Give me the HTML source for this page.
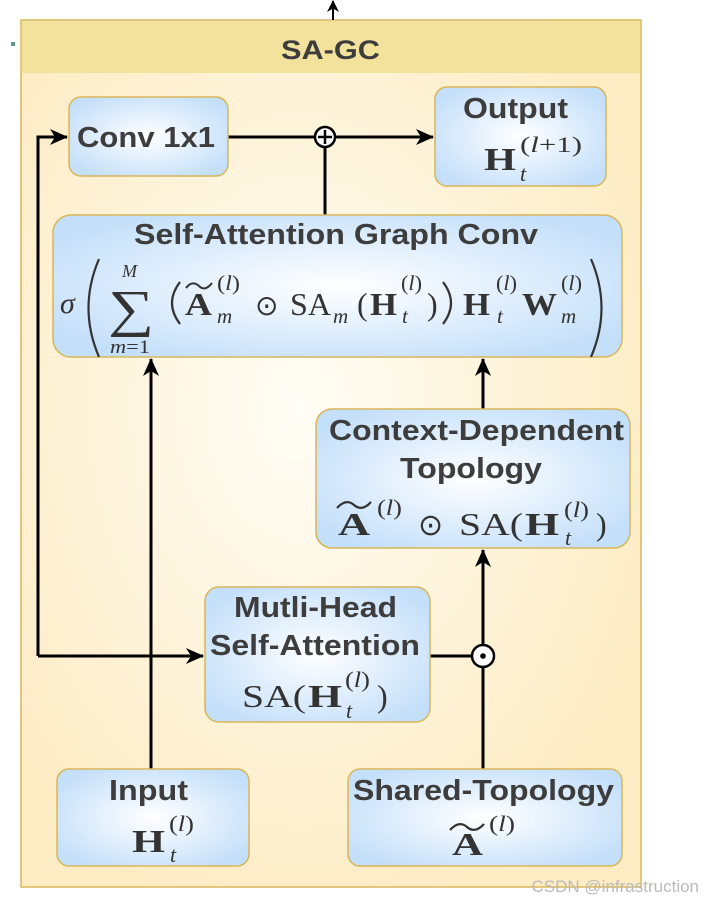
<!DOCTYPE html>
<html><head><meta charset="utf-8"><style>
body{margin:0;background:#fff;}
svg{display:block;}
.t{font-family:"Liberation Sans",sans-serif;font-weight:bold;fill:#3d3d3d;}
.m{font-family:"Liberation Serif",serif;fill:#333;}
.b{font-weight:bold;}
.i{font-style:italic;}
</style></head><body>
<svg width="714" height="902" viewBox="0 0 714 902" xmlns="http://www.w3.org/2000/svg">
<defs>
<radialGradient id="bg" cx="0.45" cy="0.45" r="0.6"><stop offset="0" stop-color="#fffdf6"/><stop offset="1" stop-color="#fdecc4"/></radialGradient>
<radialGradient id="bx" cx="0.5" cy="0.5" r="0.6"><stop offset="0" stop-color="#ffffff"/><stop offset="1" stop-color="#c4dffa"/></radialGradient>
<marker id="ar" markerWidth="18" markerHeight="16" refX="17" refY="8" orient="auto" markerUnits="userSpaceOnUse"><path d="M0,0 L18,8 L0,16 L5,8 z" fill="#000"/></marker>
<marker id="ar2" markerWidth="12" markerHeight="12" refX="11" refY="6" orient="auto" markerUnits="userSpaceOnUse"><path d="M0,0 L12,6 L0,12 L3.5,6 z" fill="#000"/></marker>
</defs>
<rect x="21" y="20" width="620" height="867" fill="url(#bg)" stroke="#d8b65a" stroke-width="1.5"/>
<rect x="22" y="21" width="618" height="52" fill="#f2e29c"/>
<text class="t" x="281" y="59" font-size="27" textLength="99" lengthAdjust="spacingAndGlyphs">SA-GC</text>
<rect x="11" y="42" width="4" height="4" fill="#5a9a8a"/>
<line x1="333" y1="20" x2="333" y2="1" stroke="#000" stroke-width="2" marker-end="url(#ar2)"/>
<g stroke="#000" stroke-width="3" fill="none">
<polyline points="38,656 38,137 67,137" marker-end="url(#ar)"/>
<line x1="38" y1="656" x2="203" y2="656" marker-end="url(#ar)"/>
<line x1="228" y1="137" x2="315" y2="137"/>
<line x1="335" y1="137" x2="433" y2="137" marker-end="url(#ar)"/>
<line x1="325" y1="147" x2="325" y2="215"/>
<line x1="151" y1="769" x2="151" y2="359" marker-end="url(#ar)"/>
<line x1="483" y1="769" x2="483" y2="550" marker-end="url(#ar)"/>
<line x1="430" y1="656" x2="473" y2="656"/>
<line x1="483" y1="409" x2="483" y2="359" marker-end="url(#ar)"/>
</g>
<circle cx="325" cy="137" r="10" fill="#fff" stroke="#000" stroke-width="2.5"/>
<path d="M325,130 V144 M318,137 H332" stroke="#000" stroke-width="2.5"/>
<circle cx="483" cy="656" r="11" fill="#fff" stroke="#000" stroke-width="2.5"/>
<circle cx="483" cy="656" r="2.8" fill="#000"/>
<g stroke="#d8b65a" stroke-width="1.5" fill="url(#bx)">
<rect x="69" y="97" width="159" height="79" rx="12"/>
<rect x="435" y="87" width="171" height="99" rx="12"/>
<rect x="53" y="215" width="569" height="142" rx="18"/>
<rect x="316" y="409" width="314" height="139" rx="16"/>
<rect x="205" y="587" width="225" height="135" rx="14"/>
<rect x="57" y="769" width="192" height="97" rx="12"/>
<rect x="348" y="769" width="274" height="97" rx="12"/>
</g>
<text class="t" x="77" y="147" font-size="29" textLength="138" lengthAdjust="spacingAndGlyphs">Conv 1x1</text>
<text class="t" x="463" y="118" font-size="29" textLength="105" lengthAdjust="spacingAndGlyphs">Output</text>
<text class="t" x="134" y="244" font-size="29" textLength="404" lengthAdjust="spacingAndGlyphs">Self-Attention Graph Conv</text>
<text class="t" x="329" y="440" font-size="29" textLength="295" lengthAdjust="spacingAndGlyphs">Context-Dependent</text>
<text class="t" x="400" y="478" font-size="29" textLength="142" lengthAdjust="spacingAndGlyphs">Topology</text>
<text class="t" x="234" y="617" font-size="29" textLength="163" lengthAdjust="spacingAndGlyphs">Mutli-Head</text>
<text class="t" x="210" y="655" font-size="29" textLength="210" lengthAdjust="spacingAndGlyphs">Self-Attention</text>
<text class="t" x="109" y="800" font-size="29" textLength="79" lengthAdjust="spacingAndGlyphs">Input</text>
<text class="t" x="353" y="800" font-size="29" textLength="261" lengthAdjust="spacingAndGlyphs">Shared-Topology</text>

<text class="m b" x="484" y="170" font-size="32" textLength="32" lengthAdjust="spacingAndGlyphs">H</text>
<text class="m" x="520" y="152" font-size="22" textLength="62" lengthAdjust="spacingAndGlyphs">(<tspan class="i">l</tspan>+1)</text>
<text class="m i" x="520" y="181" font-size="22">t</text>

<g fill="none" stroke="#333" stroke-width="2.2">
<path d="M99,259 Q78,308 99,357"/>
<path d="M591,259 Q612,308 591,357"/>
<path d="M180,282 Q164,303 180,324"/>
<path d="M443,282 Q459,303 443,324"/>
</g>
<g class="m">
<text class="m i" x="60" y="313" font-size="30">σ</text>
<text class="m i" x="122" y="277" font-size="18">M</text>
<text class="m" x="108" y="326" font-size="52" textLength="46" lengthAdjust="spacingAndGlyphs">∑</text>
<text class="m" x="110" y="353" font-size="19" textLength="40" lengthAdjust="spacingAndGlyphs"><tspan class="i">m</tspan>=1</text>
<text class="m b" x="185" y="315" font-size="32" textLength="27" lengthAdjust="spacingAndGlyphs">A</text>
<path d="M186,288 Q192,280 199,286 Q205,292 212,283" fill="none" stroke="#333" stroke-width="2"/>
<text class="m" x="217" y="290" font-size="21" textLength="23" lengthAdjust="spacingAndGlyphs">(<tspan class="i">l</tspan>)</text>
<text class="m i" x="217" y="323" font-size="21">m</text>
<text class="m" x="255" y="315" font-size="28">⊙</text>
<text class="m" x="290" y="315" font-size="32" textLength="41" lengthAdjust="spacingAndGlyphs">SA</text>
<text class="m i" x="333" y="323" font-size="21">m</text>
<text class="m" x="357" y="315" font-size="32">(</text>
<text class="m b" x="370" y="315" font-size="32" textLength="27" lengthAdjust="spacingAndGlyphs">H</text>
<text class="m" x="401" y="290" font-size="21" textLength="21" lengthAdjust="spacingAndGlyphs">(<tspan class="i">l</tspan>)</text>
<text class="m i" x="402" y="323" font-size="21">t</text>
<text class="m" x="427" y="315" font-size="32">)</text>
<text class="m b" x="463" y="315" font-size="32" textLength="27" lengthAdjust="spacingAndGlyphs">H</text>
<text class="m" x="496" y="290" font-size="21" textLength="21" lengthAdjust="spacingAndGlyphs">(<tspan class="i">l</tspan>)</text>
<text class="m i" x="497" y="323" font-size="21">t</text>
<text class="m b" x="522" y="315" font-size="32" textLength="35" lengthAdjust="spacingAndGlyphs">W</text>
<text class="m" x="561" y="290" font-size="21" textLength="21" lengthAdjust="spacingAndGlyphs">(<tspan class="i">l</tspan>)</text>
<text class="m i" x="561" y="323" font-size="21">m</text>
</g>

<text class="m b" x="338" y="535" font-size="32" textLength="32" lengthAdjust="spacingAndGlyphs">A</text>
<path d="M337,508 Q346,498 354,505 Q362,512 371,502" fill="none" stroke="#333" stroke-width="2.2"/>
<text class="m" x="377" y="515" font-size="22" textLength="25" lengthAdjust="spacingAndGlyphs">(<tspan class="i">l</tspan>)</text>
<text class="m" x="418" y="535" font-size="30">⊙</text>
<text class="m" x="459" y="535" font-size="32" textLength="64" lengthAdjust="spacingAndGlyphs">SA(</text>
<text class="m b" x="525" y="535" font-size="32" textLength="34" lengthAdjust="spacingAndGlyphs">H</text>
<text class="m" x="564" y="517" font-size="22" textLength="25" lengthAdjust="spacingAndGlyphs">(<tspan class="i">l</tspan>)</text>
<text class="m i" x="565" y="545" font-size="22">t</text>
<text class="m" x="596" y="535" font-size="32">)</text>

<text class="m" x="242" y="707" font-size="32" textLength="64" lengthAdjust="spacingAndGlyphs">SA(</text>
<text class="m b" x="308" y="707" font-size="32" textLength="34" lengthAdjust="spacingAndGlyphs">H</text>
<text class="m" x="345" y="687" font-size="22" textLength="25" lengthAdjust="spacingAndGlyphs">(<tspan class="i">l</tspan>)</text>
<text class="m i" x="346" y="718" font-size="22">t</text>
<text class="m" x="377" y="707" font-size="32">)</text>

<text class="m b" x="132" y="852" font-size="32" textLength="33" lengthAdjust="spacingAndGlyphs">H</text>
<text class="m" x="169" y="831" font-size="22" textLength="25" lengthAdjust="spacingAndGlyphs">(<tspan class="i">l</tspan>)</text>
<text class="m i" x="170" y="862" font-size="22">t</text>

<text class="m b" x="452" y="855" font-size="32" textLength="31" lengthAdjust="spacingAndGlyphs">A</text>
<path d="M450,830 Q459,820 467,827 Q475,834 484,824" fill="none" stroke="#333" stroke-width="2.2"/>
<text class="m" x="489" y="831" font-size="22" textLength="26" lengthAdjust="spacingAndGlyphs">(<tspan class="i">l</tspan>)</text>

<text x="699" y="892" font-family="Liberation Sans,sans-serif" font-size="17" fill="#bbb" text-anchor="end">CSDN @infrastruction</text>
</svg>
</body></html>
